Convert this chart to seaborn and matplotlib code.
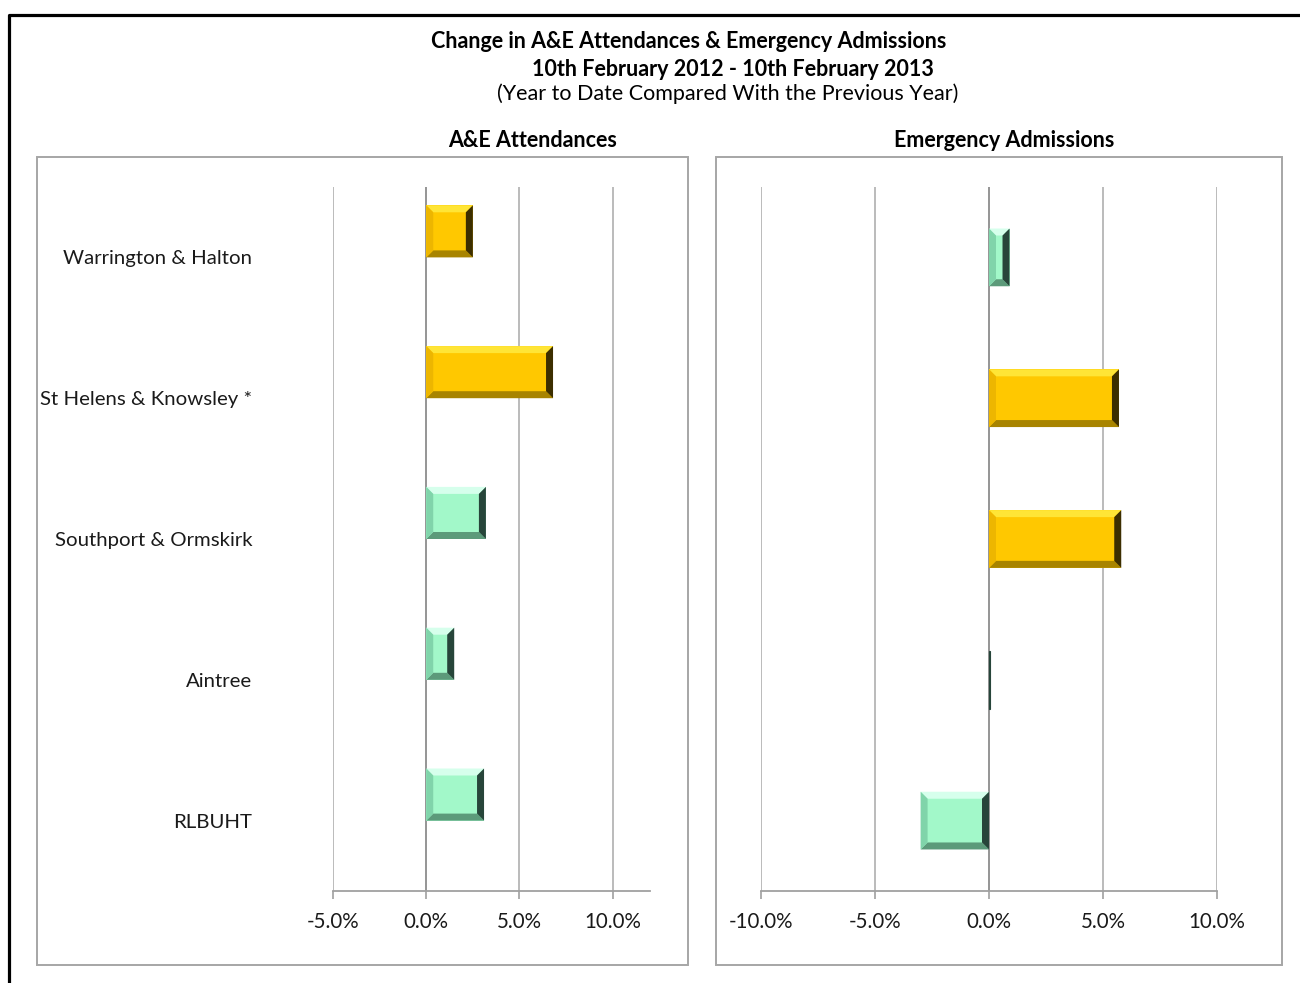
import numpy as np
import pandas as pd
import matplotlib
matplotlib.use("Agg")
import matplotlib.pyplot as plt
import seaborn as sns
from matplotlib.patches import Polygon, Rectangle
from matplotlib.lines import Line2D
from matplotlib.transforms import IdentityTransform

# ---------------- data ----------------
trusts = ["Warrington & Halton", "St Helens & Knowsley *", "Southport & Ormskirk",
          "Aintree", "RLBUHT"]
ae_change = [2.5, 6.8, 3.2, 1.5, 3.1]          # A&E attendances, % change
ea_change = [0.9, 5.7, 5.8, 0.05, -3.0]        # Emergency admissions, % change
ae_status = ["amber", "amber", "green", "green", "green"]
ea_status = ["green", "amber", "amber", "green", "green"]
left_ticks = [-5, 0, 5, 10]
right_ticks = [-10, -5, 0, 5, 10]

title_1 = "Change in A&E Attendances & Emergency Admissions"
title_2 = "10th February 2012 - 10th February 2013"
title_3 = "(Year to Date Compared With the Previous Year)"
panel_titles = ["A&E Attendances", "Emergency Admissions"]

# ---------------- style ----------------
sns.set_theme(style="white")
plt.rcParams['font.family'] = ['Lato', 'DejaVu Sans']

palette = {
    "amber": dict(face="#FFC800", top="#FFE536", left="#EDB600", bottom="#A88400", right="#3C2E00"),
    "green": dict(face="#A2F8C9", top="#D6FFEC", left="#80D4AA", bottom="#5C9A7A", right="#27453A"),
}

W, H = 1300, 983
fig = plt.figure(figsize=(W / 100, H / 100), dpi=100)
fig.patch.set_facecolor("white")


def rect(x0, y0, x1, y1):
    return [x0 / W, 1 - y1 / H, (x1 - x0) / W, (y1 - y0) / H]


axL = fig.add_axes(rect(333, 187, 650, 891))
axR = fig.add_axes(rect(761, 187, 1217, 891))

# left chart: primary series plus an empty companion series (dodged, as in the source)
dfL = pd.DataFrame({
    "trust": trusts * 2,
    "change": ae_change + [0.0] * len(trusts),
    "series": ["YTD"] * len(trusts) + ["blank"] * len(trusts),
})
sns.barplot(data=dfL, x="change", y="trust", hue="series", hue_order=["YTD", "blank"],
            order=trusts, orient="h", width=0.74, dodge=True, errorbar=None,
            legend=False, ax=axL, linewidth=0)

dfR = pd.DataFrame({"trust": trusts, "change": ea_change})
sns.barplot(data=dfR, x="change", y="trust", order=trusts, orient="h", width=0.41,
            errorbar=None, color="#A2F8C9", ax=axR, linewidth=0)

grid_col = "#B5B5B5"
for ax, ticks, lim in [(axL, left_ticks, (-5, 12)), (axR, right_ticks, (-10, 10))]:
    ax.set_xlim(*lim)
    ax.set_xticks(ticks)
    ax.set_xticklabels([f"{t:.1f}%" for t in ticks], fontsize=14.8, color="#1a1a1a")
    ax.set_xlabel("")
    ax.set_ylabel("")
    for s in ["top", "right", "left"]:
        ax.spines[s].set_visible(False)
    ax.spines["bottom"].set_color("#A0A0A0")
    ax.spines["bottom"].set_linewidth(1.3)
    ax.tick_params(axis="x", direction="out", length=6, width=1.2, color="#A0A0A0", pad=9,
                   bottom=True)
    for t in ticks:
        if t != 0:
            ax.axvline(t, color=grid_col, lw=1.3, zorder=0)
    ax.axvline(0, color="#8C8C8C", lw=1.3, zorder=0.5)
    ax.set_facecolor("none")

axL.tick_params(axis="y", length=0, pad=58, labelsize=14.7, labelcolor="#1a1a1a")
axR.set_yticklabels([])
axR.tick_params(axis="y", length=0)

# identify patches and colour them
bars = []
for p in axL.patches:
    if p.get_width() == 0:
        p.set_visible(False)
        continue
    idx = int(round(p.get_y() + p.get_height()))
    bars.append((axL, p, ae_status[idx]))
for p in axR.patches:
    idx = int(round(p.get_y() + p.get_height() / 2))
    bars.append((axR, p, ea_status[idx]))

# bevel effect drawn in pixel space
for ax, p, status in bars:
    c = palette[status]
    p.set_facecolor(c["face"])
    p.set_edgecolor("none")
    x = p.get_x(); w = p.get_width(); y = p.get_y(); h = p.get_height()
    (xa, ya), (xb, yb) = ax.transData.transform([(x, y), (x + w, y + h)])
    x0, x1 = sorted([xa, xb]); y0, y1 = sorted([ya, yb])
    if x1 - x0 < 3:
        # hairline bar: only the dark shaded side is visible
        p.set_facecolor(c["right"])
        p.set_edgecolor(c["right"])
        p.set_linewidth(0.8)
        continue
    b = min(7.0, (x1 - x0) / 2, (y1 - y0) / 2)
    polys = [
        ([(x0, y1), (x1, y1), (x1 - b, y1 - b), (x0 + b, y1 - b)], c["top"]),
        ([(x0, y0), (x1, y0), (x1 - b, y0 + b), (x0 + b, y0 + b)], c["bottom"]),
        ([(x0, y0), (x0, y1), (x0 + b, y1 - b), (x0 + b, y0 + b)], c["left"]),
        ([(x1, y0), (x1, y1), (x1 - b, y1 - b), (x1 - b, y0 + b)], c["right"]),
    ]
    for pts, col in polys:
        fig.add_artist(Polygon(pts, closed=True, facecolor=col, edgecolor="none",
                               transform=IdentityTransform(), zorder=3))

# panel boxes
for x0, x1 in [(37, 688), (716, 1282)]:
    fig.add_artist(Rectangle((x0 / W, 1 - 965 / H), (x1 - x0) / W, (965 - 157) / H,
                             transform=fig.transFigure, fill=False,
                             edgecolor="#A6A6A6", lw=1.4, zorder=1))

# outer frame (left and top edges visible)
fig.add_artist(Line2D([8.5 / W, 8.5 / W, 1.0], [0.0, 1 - 14.5 / H, 1 - 14.5 / H],
                      transform=fig.transFigure, color="black", lw=2.3))

# titles
fig.text(689 / W, 1 - 41 / H, title_1, ha="center", va="center", fontsize=15.5,
         fontweight="bold", color="black")
fig.text(733 / W, 1 - 69 / H, title_2, ha="center", va="center", fontsize=15.5,
         fontweight="bold", color="black")
fig.text(728 / W, 1 - 94 / H, title_3, ha="center", va="center", fontsize=15.5,
         color="black")
fig.text(533 / W, 1 - 141 / H, panel_titles[0], ha="center", va="center", fontsize=15.5,
         fontweight="bold", color="black")
fig.text(1004 / W, 1 - 141 / H, panel_titles[1], ha="center", va="center", fontsize=15.5,
         fontweight="bold", color="black")

fig.savefig("out.png", dpi=100, facecolor="white")
